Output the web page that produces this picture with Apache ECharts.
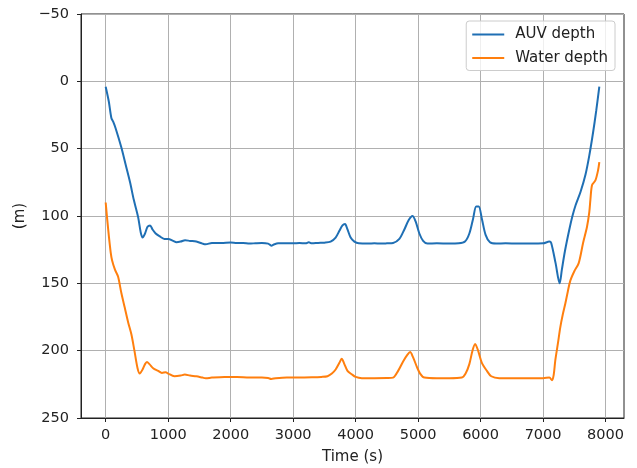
<!DOCTYPE html>
<html>
<head>
<meta charset="utf-8">
<script src="https://cdn.jsdelivr.net/npm/echarts@6/dist/echarts.min.js"></script>
<style>
  html, body { margin: 0; padding: 0; background: #fff; }
  #chart { width: 637px; height: 468px; }
</style>
</head>
<body>
<div id="chart"></div>
<script>
// Temps (s) et profondeur du véhicule
const auvTime = [0, 50, 90, 120, 160, 250, 320, 390, 450, 520, 560, 590, 630, 670, 710, 750, 800, 860, 940, 1000,
  1080, 1133, 1200, 1270, 1350, 1450, 1550, 1600, 1700, 1850, 2000, 2100, 2200, 2300, 2400, 2500, 2600, 2650, 2700,
  2760, 2900, 3000, 3100, 3200, 3250, 3300, 3400, 3500, 3600, 3680, 3740, 3790, 3830, 3870, 3920, 3980, 4050, 4200,
  4300, 4400, 4500, 4600, 4700, 4780, 4850, 4910, 4960, 5020, 5080, 5150, 5300, 5500, 5650, 5750, 5820, 5880, 5930,
  5970, 6020, 6080, 6150, 6250, 6400, 6600, 6800, 7000, 7100, 7130, 7200, 7265, 7300, 7350, 7420, 7470, 7520, 7600,
  7680, 7740, 7800, 7850, 7900];
const auvDepth = [4, 15, 27, 30, 35, 49, 62, 75, 88, 101, 112, 116, 113, 108, 107, 110, 113, 115, 117, 117,
  118.5, 119.5, 119, 118, 118.5, 119, 120.5, 121, 120, 120, 119.7, 120, 120, 120.5, 120.2, 120, 120.5, 122, 121,
  120.3, 120.2, 120.3, 120, 120.3, 119.5, 120.3, 120, 119.8, 119, 116, 111, 107, 106, 110, 116, 119, 120.3, 120.5,
  120.3, 120.5, 120.3, 120, 117, 110, 103, 100, 104, 113, 118.5, 120.5, 120.3, 120.5, 120.3, 119, 113, 102, 93,
  93, 102, 114, 119.5, 120.5, 120.3, 120.5, 120.5, 120.3, 119, 120, 135, 150, 140, 126, 110, 100, 92, 82,
  69, 55, 38, 22, 4];

// Temps (s) et profondeur d'eau
const waterTime = [0, 40, 80, 103, 150, 198, 250, 305, 360, 412, 460, 510, 545, 590, 630, 660, 700, 760, 840, 900,
  960, 1000, 1100, 1200, 1266, 1350, 1450, 1550, 1600, 1700, 1900, 2100, 2300, 2500, 2600, 2650, 2720, 2900, 3100,
  3300, 3450, 3550, 3620, 3680, 3740, 3777, 3820, 3870, 3937, 4000, 4100, 4300, 4500, 4600, 4680, 4760, 4830, 4872,
  4920, 4980, 5032, 5100, 5300, 5500, 5700, 5760, 5820, 5870, 5913, 5960, 6020, 6101, 6170, 6300, 6500, 6800, 7000,
  7100, 7143, 7170, 7196, 7236, 7276, 7316, 7356, 7396, 7436, 7500, 7570, 7640, 7703, 7740, 7757, 7784, 7837, 7880, 7900];
const waterDepth = [90, 110, 127, 133, 140, 145, 157, 168, 179, 188, 200, 213, 217, 214, 210, 208.5, 210, 213, 215, 216.5,
  216, 217, 219, 218.5, 217.7, 218.5, 219, 220, 220.5, 220, 219.5, 219.5, 220, 220, 220.3, 221, 220.5, 220, 220,
  219.8, 219.5, 219, 217, 214, 209, 206, 210, 215, 217.5, 219.5, 220.4, 220.4, 220.3, 220, 215, 208, 203, 201,
  205, 212, 217, 220, 220.5, 220.5, 220, 217, 210, 200, 195, 200, 209, 215, 219, 220.4, 220.4, 220.4, 220.4,
  220, 222, 218, 207, 195, 182.5, 173, 165, 156, 148, 141, 135, 120, 108, 97, 88, 77, 73.6, 66, 60];

const xTicks = [0, 1000, 2000, 3000, 4000, 5000, 6000, 7000, 8000];

const zip = (t, v) => t.map((x, i) => [x, v[i]]);
const font = 'DejaVu Sans';

const chart = echarts.init(document.getElementById('chart'), null, { renderer: 'canvas' });

const option = {
  backgroundColor: '#fff',
  animation: false,
  textStyle: { fontFamily: font },
  grid: {
    left: 81, top: 14, right: 13, bottom: 50,
    show: true, borderColor: '#222', borderWidth: 1,
    containLabel: false, outerBoundsMode: 'none'
  },
  legend: {
    orient: 'vertical',
    right: 22, top: 21,
    padding: [6, 7, 5, 6],
    itemGap: 8.5,
    itemWidth: 32, itemHeight: 2,
    itemStyle: { borderWidth: 0 },
    textStyle: { fontFamily: font, fontSize: 15, color: '#222', padding: [0, 0, 0, 6] },
    backgroundColor: 'rgba(255,255,255,0.8)',
    borderColor: '#ccc', borderWidth: 1, borderRadius: 3,
    data: [{ name: 'AUV depth', icon: 'rect' }, { name: 'Water depth', icon: 'rect' }]
  },
  xAxis: {
    type: 'value',
    min: -395, max: 8295,
    name: 'Time (s)',
    nameLocation: 'middle',
    nameGap: 32,
    nameTextStyle: { fontFamily: font, fontSize: 15, color: '#222' },
    axisLine: { show: true, onZero: false, lineStyle: { color: '#222' } },
    axisTick: { show: true, length: 4, customValues: xTicks, lineStyle: { color: '#222' } },
    axisLabel: {
      customValues: xTicks, margin: 10, fontFamily: font, fontSize: 14.5, color: '#222',
      formatter: v => String(v)
    },
    splitLine: { show: true, lineStyle: { color: '#b0b0b0', width: 1 } }
  },
  yAxis: {
    type: 'value',
    inverse: true,
    min: -50, max: 250, interval: 50,
    name: '(m)',
    nameLocation: 'middle',
    nameGap: 46,
    nameTextStyle: { fontFamily: font, fontSize: 15, color: '#222' },
    axisLine: { show: true, onZero: false, lineStyle: { color: '#222' } },
    axisTick: { show: true, length: 4, lineStyle: { color: '#222' } },
    axisLabel: {
      margin: 12, fontFamily: font, fontSize: 14.5, color: '#222',
      formatter: v => String(v).replace('-', '\u2212')
    },
    splitLine: { show: true, lineStyle: { color: '#b0b0b0', width: 1 } }
  },
  series: [
    {
      name: 'AUV depth',
      type: 'line',
      data: zip(auvTime, auvDepth),
      symbol: 'none',
      smooth: 0.3,
      color: '#1f6fb4',
      lineStyle: { width: 2, color: '#1f6fb4' }
    },
    {
      name: 'Water depth',
      type: 'line',
      data: zip(waterTime, waterDepth),
      symbol: 'none',
      smooth: 0.3,
      color: '#ff7f0e',
      lineStyle: { width: 2, color: '#ff7f0e' }
    }
  ]
};

chart.setOption(option);
window.addEventListener('resize', chart.resize);
</script>
</body>
</html>
